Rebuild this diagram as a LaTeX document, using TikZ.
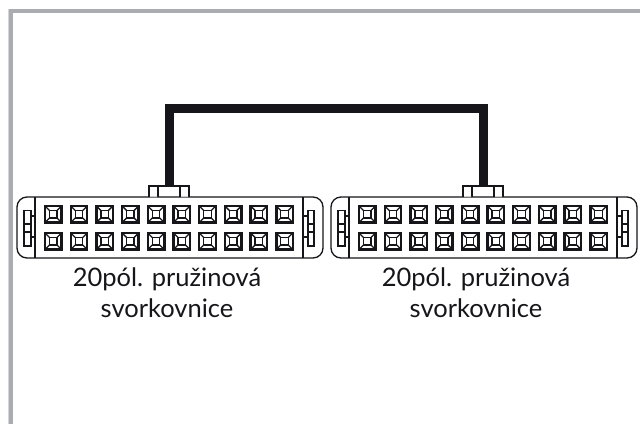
\documentclass[tikz,border=0pt]{standalone}
\usepackage{fontspec}
\setmainfont{Lato}
\definecolor{framegray}{RGB}{170,172,177}
\definecolor{inkk}{RGB}{22,22,26}
\tikzset{
  x=1pt,y=-1pt,
  part/.style={draw=inkk,line width=1.3pt},
  pinout/.style={draw=inkk,line width=2.4pt},
  pinin/.style={draw=inkk,line width=1.3pt},
  wire/.style={draw=inkk,line width=9pt,line join=miter},
  caption/.style={align=center,font=\fontsize{25.5}{31}\selectfont,text=inkk,inner sep=0pt},
  connector/.pic={
    \draw[part,rounded corners=10pt] (17,197) rectangle (323,258);
    \draw[part] (35,197) -- (35,258);
    \draw[part] (303,197) -- (303,258);
    \draw[part] (149,197) -- (149,186) -- (189,186) -- (189,197);
    \draw[part] (158,186) -- (158,197) (180,186) -- (180,197);
    \fill[white] (150,197) rectangle (157,196.4) (181,197) rectangle (188,196.4);
    % left latch
    \draw[part] (35,216) -- (31,216) -- (31,210.5) -- (24,210.5) -- (24,246) -- (31,246) -- (31,237) -- (35,237);
    \draw[part] (31,216) -- (31,237) (24,224) -- (31,224) (24,232) -- (31,232);
    % right latch
    \draw[part] (303,216) -- (308,216) -- (308,210.5) -- (314,210.5) -- (314,246) -- (308,246) -- (308,237) -- (303,237);
    \draw[part] (308,216) -- (308,237) (308,224) -- (314,224) (308,232) -- (314,232);
    \foreach \c in {0,...,9} \foreach \r in {0,1} {
      \begin{scope}[shift={(45+25.7*\c,206+27*\r)}]
        \draw[pinout] (0,0) rectangle (16.5,16.5);
        \draw[pinin] (4.5,4.5) rectangle (12,12);
        \draw[pinin] (0,0) -- (4.5,4.5) (16.5,0) -- (12,4.5) (0,16.5) -- (4.5,12) (16.5,16.5) -- (12,12);
      \end{scope}
    }
    \coordinate (-top) at (169,186);
  }
}
\begin{document}
\begin{tikzpicture}
\useasboundingbox (0,0) rectangle (640,424);
\fill[white] (0,0) rectangle (640,424);
\fill[framegray] (9,9) rectangle (640,13);
\fill[framegray] (9,9) rectangle (13,424);
\fill[framegray!50] (8,9) rectangle (9,424);
\pic (c1) at (0,0) {connector};
\pic (c2) at (314,0) {connector};
\draw[wire] (c1-top) -- (169,108.5) -- (483,108.5) -- (c2-top);
\node[caption] (t1) at (167,292.5) {20pól. pružinová\\svorkovnice};
\node[caption] (t2) at (476,292.5) {20pól. pružinová\\svorkovnice};
\end{tikzpicture}
\end{document}
